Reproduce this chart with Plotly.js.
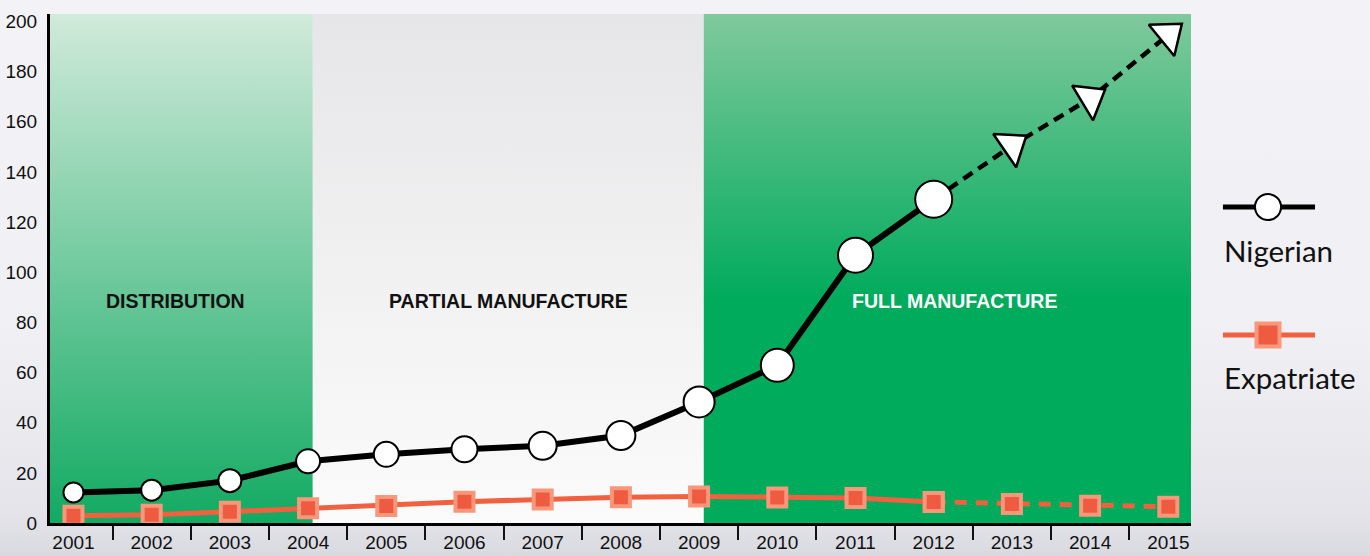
<!DOCTYPE html>
<html>
<head>
<meta charset="utf-8">
<script src="https://cdn.plot.ly/plotly-3.0.1.min.js"></script>
<style>
  html, body { margin: 0; padding: 0; }
  body { width: 1370px; height: 556px; overflow: hidden;
         background: linear-gradient(to bottom, #f3f3f7 0%, #f0f0f4 60%, #e4e4ea 92%, #d9d9e0 100%); }
  #chart { width: 1370px; height: 556px; }
</style>
</head>
<body>
<div id="chart"></div>
<script>
// ---------------- data ----------------
const years = [2001, 2002, 2003, 2004, 2005, 2006, 2007, 2008, 2009, 2010, 2011, 2012, 2013, 2014, 2015];
const yearLabels = ['2001', '2002', '2003', '2004', '2005', '2006', '2007', '2008', '2009', '2010', '2011', '2012', '2013', '2014', '2015'];
const nigerian = [12.2, 13.1, 16.9, 24.6, 27.4, 29.4, 30.8, 34.9, 48.3, 62.9, 106.8, 129.1, 150.5, 169.3, 194.7];
const expatriate = [2.9, 3.3, 4.5, 5.9, 6.8, 8.5, 9.4, 10.3, 10.6, 10.2, 10.0, 8.4, 7.6, 6.9, 6.5];
const lastActualYear = 2012;               // later years are projections (dashed)
const phaseNames = ['DISTRIBUTION', 'PARTIAL MANUFACTURE', 'FULL MANUFACTURE'];
const phaseChangeYears = [2004, 2009];     // year at which each new phase starts
const seriesNames = ['Nigerian', 'Expatriate'];
const yTicks = [0, 20, 40, 60, 80, 100, 120, 140, 160, 180, 200];

// ---------------- styles ----------------
const X_RANGE = [2000.70, 2015.29];
const Y_RANGE = [0, 203];
const PHASE_EDGE_SHIFT = 0.06;
const nigerianSizes = [20, 21, 23, 24, 25, 26, 28, 29, 31, 33, 35, 37];
const NIG_COLOR = '#000000';
const EXP_LINE = '#f1603f';
const EXP_FILL = '#ef5b41';
const EXP_EDGE = '#f9977b';
const phaseGradients = [
  [[0, '#12aa62'], [1, '#d1eadb']],
  [[0, '#fbfbfb'], [1, '#e6e6e8']],
  [[0, '#00ab5b'], [0.44, '#00ab5c'], [1, '#80c99c']]
];
const phaseTextColors = ['#111111', '#111111', '#ffffff'];
const phaseLabelShift = [-6, 0, 7];

// ---------------- build ----------------
const splitIdx = years.indexOf(lastActualYear);
const actYears = years.slice(0, splitIdx + 1);
const projYears = years.slice(splitIdx);

const edges = [X_RANGE[0]].concat(phaseChangeYears.map(y => y + PHASE_EDGE_SHIFT)).concat([X_RANGE[1]]);

const traces = [];
phaseNames.forEach((name, i) => {
  const x0 = edges[i], x1 = edges[i + 1];
  traces.push({
    type: 'scatter', mode: 'none', hoverinfo: 'skip', showlegend: false,
    x: [x0, x1, x1, x0, x0], y: [Y_RANGE[0], Y_RANGE[0], Y_RANGE[1], Y_RANGE[1], Y_RANGE[0]],
    fill: 'toself', fillcolor: phaseGradients[i][0][1],
    fillgradient: { type: 'vertical', start: Y_RANGE[0], stop: Y_RANGE[1], colorscale: phaseGradients[i] }
  });
});

// Expatriate projected (dashed)
traces.push({
  type: 'scatter', mode: 'lines+markers', showlegend: false, name: seriesNames[1],
  x: projYears, y: expatriate.slice(splitIdx),
  line: { color: EXP_LINE, width: 5, dash: '12px,9px' },
  marker: { symbol: 'square', size: 18, opacity: 1, color: EXP_FILL, line: { color: EXP_EDGE, width: 4 } }
});
// Expatriate actual
traces.push({
  type: 'scatter', mode: 'lines+markers', showlegend: false, name: seriesNames[1],
  x: actYears, y: expatriate.slice(0, splitIdx + 1),
  line: { color: EXP_LINE, width: 5 },
  marker: { symbol: 'square', size: 18, opacity: 1, color: EXP_FILL, line: { color: EXP_EDGE, width: 4 } }
});
// Nigerian projected (dashed with arrow heads)
traces.push({
  type: 'scatter', mode: 'lines+markers', showlegend: false, name: seriesNames[0],
  x: projYears, y: nigerian.slice(splitIdx),
  line: { color: NIG_COLOR, width: 4.5, dash: '11px,7px' },
  marker: { symbol: 'triangle-up', angleref: 'previous', opacity: 1,
            size: projYears.map((y, i) => i === 0 ? 0 : 35),
            color: '#ffffff', line: { color: '#000000', width: 2.5 } }
});
// Nigerian actual
traces.push({
  type: 'scatter', mode: 'lines+markers', showlegend: false, name: seriesNames[0],
  x: actYears, y: nigerian.slice(0, splitIdx + 1),
  line: { color: NIG_COLOR, width: 6 },
  marker: { symbol: 'circle', size: nigerianSizes, opacity: 1, color: '#ffffff', line: { color: '#000000', width: 2 } }
});

const annotations = phaseNames.map((name, i) => ({
  x: (edges[i] + edges[i + 1]) / 2, y: 88.7, xref: 'x', yref: 'y', xshift: phaseLabelShift[i],
  text: '<b>' + name + '</b>', showarrow: false,
  font: { family: 'Liberation Sans, Arial, sans-serif', size: 19.5, color: phaseTextColors[i] }
}));

// custom legend (right side)
const LEG_X0 = 1.028, LEG_X1 = 1.1087, LEG_MX = 1.0675;
const legRows = [0.6208, 0.3694];
const legText = [0.5363, 0.2849];
const shapes = [];
shapes.push({ type: 'line', xref: 'paper', yref: 'paper', x0: LEG_X0, x1: LEG_X1, y0: legRows[0], y1: legRows[0],
              line: { color: NIG_COLOR, width: 5 } });
shapes.push({ type: 'circle', xref: 'paper', yref: 'paper', xsizemode: 'pixel', ysizemode: 'pixel',
              xanchor: LEG_MX, yanchor: legRows[0], x0: -13, x1: 13, y0: -13, y1: 13,
              fillcolor: '#ffffff', line: { color: '#000000', width: 2 } });
shapes.push({ type: 'line', xref: 'paper', yref: 'paper', x0: LEG_X0, x1: LEG_X1, y0: legRows[1], y1: legRows[1],
              line: { color: EXP_LINE, width: 5 } });
shapes.push({ type: 'rect', xref: 'paper', yref: 'paper', xsizemode: 'pixel', ysizemode: 'pixel',
              xanchor: LEG_MX, yanchor: legRows[1], x0: -11.5, x1: 11.5, y0: -11.5, y1: 11.5,
              fillcolor: EXP_FILL, line: { color: EXP_EDGE, width: 4 } });
seriesNames.forEach((n, i) => annotations.push({
  xref: 'paper', yref: 'paper', x: 1.0272, y: legText[i], xanchor: 'left', yanchor: 'middle',
  text: n, showarrow: false, font: { family: 'Lato, Open Sans, sans-serif', size: 29.5, color: '#111111' }
}));

const tickFont = { family: 'Liberation Sans, Arial, sans-serif', size: 19, color: '#111111' };
const layout = {
  width: 1370, height: 556,
  margin: { l: 50, r: 179, t: 14, b: 33 },
  paper_bgcolor: 'rgba(0,0,0,0)', plot_bgcolor: 'rgba(0,0,0,0)',
  showlegend: false,
  xaxis: {
    type: 'linear', range: X_RANGE, showgrid: false, zeroline: false,
    tickmode: 'array', tickvals: years, ticktext: yearLabels, ticks: '',
    showline: true, linecolor: '#000000', linewidth: 3,
    tickfont: tickFont, ticklabelstandoff: 0,
    minor: { tickmode: 'array', tickvals: years.slice(0, -1).map(y => y + 0.5),
             ticks: 'outside', ticklen: 14, tickwidth: 2, tickcolor: '#111111', showgrid: false }
  },
  yaxis: {
    range: Y_RANGE, showgrid: false, zeroline: false,
    tickmode: 'array', tickvals: yTicks, ticks: '',
    showline: true, linecolor: '#000000', linewidth: 3,
    tickfont: tickFont, ticklabelstandoff: 6
  },
  shapes: shapes,
  annotations: annotations
};

Plotly.newPlot('chart', traces, layout, { displayModeBar: false, staticPlot: true });
</script>
</body>
</html>
